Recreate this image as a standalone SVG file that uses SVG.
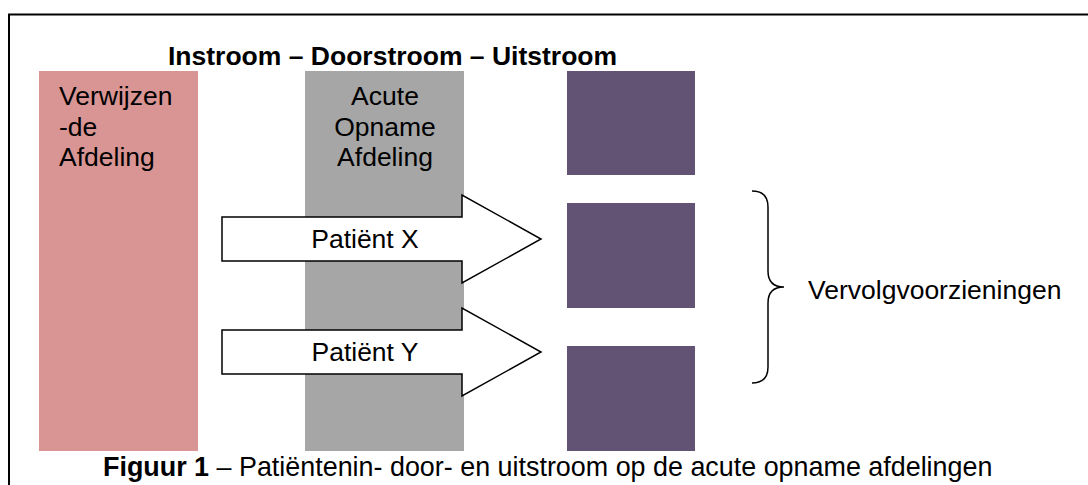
<svg xmlns="http://www.w3.org/2000/svg" width="1088" height="485" viewBox="0 0 1088 485">
<style>
text{font-family:"Liberation Sans",Arial,sans-serif;font-size:26.5px;fill:#000}
.b{font-weight:bold}
.cap{font-size:26.9px}
.arrow{fill:#fff;stroke:#000;stroke-width:1.5}
.pur{fill:#625273}
</style>
<rect x="0" y="0" width="1088" height="485" fill="#fff"/>
<path d="M9,490 V14.5 H1095" fill="none" stroke="#000" stroke-width="2"/>
<text class="b" x="168" y="65">Instroom – Doorstroom – Uitstroom</text>
<g id="verwijzende">
<rect x="39" y="71" width="159" height="380" fill="#d99594"/>
<text x="59" y="105">Verwijzen</text>
<text x="59" y="136">-de</text>
<text x="59" y="166">Afdeling</text>
</g>
<g id="acute">
<rect x="305" y="71" width="159" height="380" fill="#a6a6a6"/>
<text x="385" y="105" text-anchor="middle">Acute</text>
<text x="385" y="136" text-anchor="middle">Opname</text>
<text x="385" y="166" text-anchor="middle">Afdeling</text>
</g>
<g id="vervolg1"><rect class="pur" x="567" y="71" width="128" height="104"/></g>
<g id="vervolg2"><rect class="pur" x="567" y="203" width="128" height="105"/></g>
<g id="vervolg3"><rect class="pur" x="567" y="346" width="128" height="105"/></g>
<g id="connectors">
<g id="patientX">
<path class="arrow" d="M222,217 H462 V195 L541,239 L462,283 V261 H222 Z"/>
<text x="365" y="248" text-anchor="middle">Patiënt X</text>
</g>
<g id="patientY">
<path class="arrow" d="M222,330 H462 V308 L541,352 L462,396 V374 H222 Z"/>
<text x="365" y="361" text-anchor="middle">Patiënt Y</text>
</g>
</g>
<g id="brace">
<path d="M752,191 C762,191 768,196 768,207 V271 C768,282 774,287 784,287 C774,287 768,292 768,303 V367 C768,378 762,383 752,383" fill="none" stroke="#000" stroke-width="1.5"/>
<text x="808" y="299">Vervolgvoorzieningen</text>
</g>
<text class="cap" x="103" y="476"><tspan class="b">Figuur 1</tspan> – Patiëntenin- door- en uitstroom op de acute opname afdelingen</text>
</svg>
